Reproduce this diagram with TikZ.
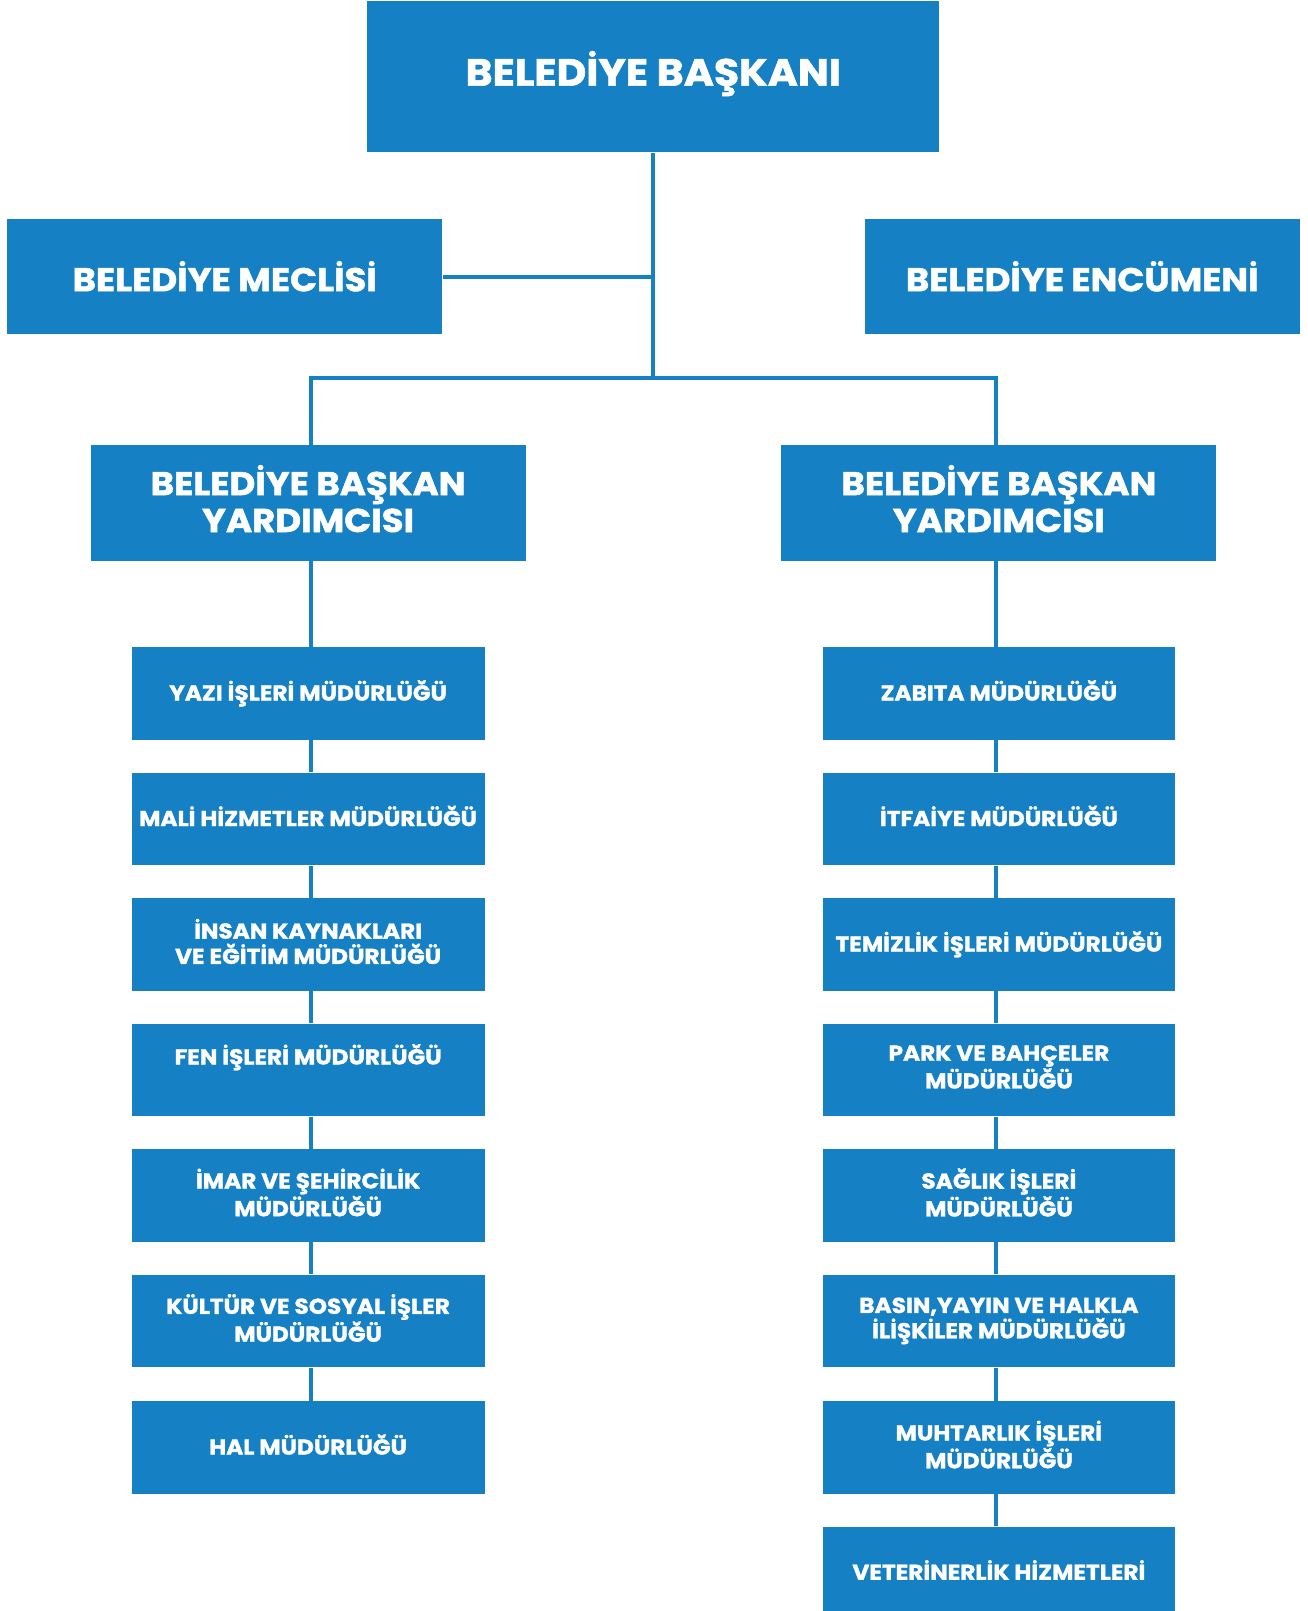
\documentclass[tikz,border=0pt]{standalone}
\usepackage{fontspec}
\setmainfont{Poppins}[BoldFeatures={FakeBold=1.5,FakeStretch=1.08}]
\definecolor{bblue}{RGB}{21,128,196}
\begin{document}
\begin{tikzpicture}[x=0.02cm,y=-0.02cm,
  box/.style={fill=bblue,draw=none,text=white,align=center,inner sep=0pt,
    execute at begin node={\vphantom{İ}},execute at end node={\vphantom{Ş}}},
  bigbox/.style={box,font=\fontsize{21}{25}\selectfont\bfseries,minimum width=11.12cm,minimum height=2.94cm},
  midbox/.style={box,font=\fontsize{18.2}{20.4}\selectfont\bfseries,minimum width=8.46cm,minimum height=2.24cm},
  smallbox/.style={box,font=\fontsize{11.9}{14}\selectfont\bfseries,minimum width=6.86cm,minimum height=1.8cm},
  conn/.style={draw=bblue,line width=2.27pt}]
\useasboundingbox (0,0) rectangle (1271,1566);
\clip (0,0) rectangle (1271,1566);
\coordinate (j) at (635,367);
\node[bigbox] (top) at (635,74.5) {\raisebox{3.4pt}{BELEDİYE BAŞKANI}};
\node[midbox] (mec) at (218.5,269) {\raisebox{-2.2pt}{BELEDİYE MECLİSİ}};
\node[midbox] (enc) at (1052,269) {\raisebox{-2.2pt}{BELEDİYE ENCÜMENİ}};
\node[midbox] (yl) at (299.5,489) {BELEDİYE BAŞKAN\\YARDIMCISI};
\node[midbox] (yr) at (971,489) {BELEDİYE BAŞKAN\\YARDIMCISI};
% left column
\node[smallbox] (l1) at (299.5,674) {YAZI İŞLERİ MÜDÜRLÜĞÜ};
\node[smallbox] (l2) at (299.5,796) {MALİ HİZMETLER MÜDÜRLÜĞÜ};
\node[smallbox] (l3) at (299.5,918) {İNSAN KAYNAKLARI\\VE EĞİTİM MÜDÜRLÜĞÜ};
\node[smallbox] (l4) at (299.5,1040) {FEN İŞLERİ MÜDÜRLÜĞÜ\\\mbox{}};
\node[smallbox] (l5) at (299.5,1162) {İMAR VE ŞEHİRCİLİK\\MÜDÜRLÜĞÜ};
\node[smallbox] (l6) at (299.5,1284) {KÜLTÜR VE SOSYAL İŞLER\\MÜDÜRLÜĞÜ};
\node[smallbox] (l7) at (299.5,1407) {HAL MÜDÜRLÜĞÜ};
% right column
\node[smallbox] (r1) at (971,674) {ZABITA MÜDÜRLÜĞÜ};
\node[smallbox] (r2) at (971,796) {İTFAİYE MÜDÜRLÜĞÜ};
\node[smallbox] (r3) at (971,918) {TEMİZLİK İŞLERİ MÜDÜRLÜĞÜ};
\node[smallbox] (r4) at (971,1040) {PARK VE BAHÇELER\\MÜDÜRLÜĞÜ};
\node[smallbox] (r5) at (971,1162) {SAĞLIK İŞLERİ\\MÜDÜRLÜĞÜ};
\node[smallbox] (r6) at (971,1284) {BASIN,YAYIN VE HALKLA\\İLİŞKİLER MÜDÜRLÜĞÜ};
\node[smallbox] (r7) at (971,1407) {MUHTARLIK İŞLERİ\\MÜDÜRLÜĞÜ};
\node[smallbox] (r8) at (971,1529) {VETERİNERLİK HİZMETLERİ};
% connectors
\draw[conn] (top.south) -- (j);
\draw[conn] (mec.east) -- (mec.east -| j);
\draw[conn] ([xshift=0.05cm]yl.north) |- (j) -| ([xshift=-0.05cm]yr.north);
\draw[conn] ([xshift=0.05cm]yl.south) -- ([xshift=0.05cm]l1.north);
\draw[conn] ([xshift=-0.05cm]yr.south) -- ([xshift=-0.05cm]r1.north);
\foreach \a/\b in {l1/l2,l2/l3,l3/l4,l4/l5,l5/l6,l6/l7}
  \draw[conn] ([xshift=0.05cm]\a.south) -- ([xshift=0.05cm]\b.north);
\foreach \a/\b in {r1/r2,r2/r3,r3/r4,r4/r5,r5/r6,r6/r7,r7/r8}
  \draw[conn] ([xshift=-0.05cm]\a.south) -- ([xshift=-0.05cm]\b.north);
\end{tikzpicture}
\end{document}
